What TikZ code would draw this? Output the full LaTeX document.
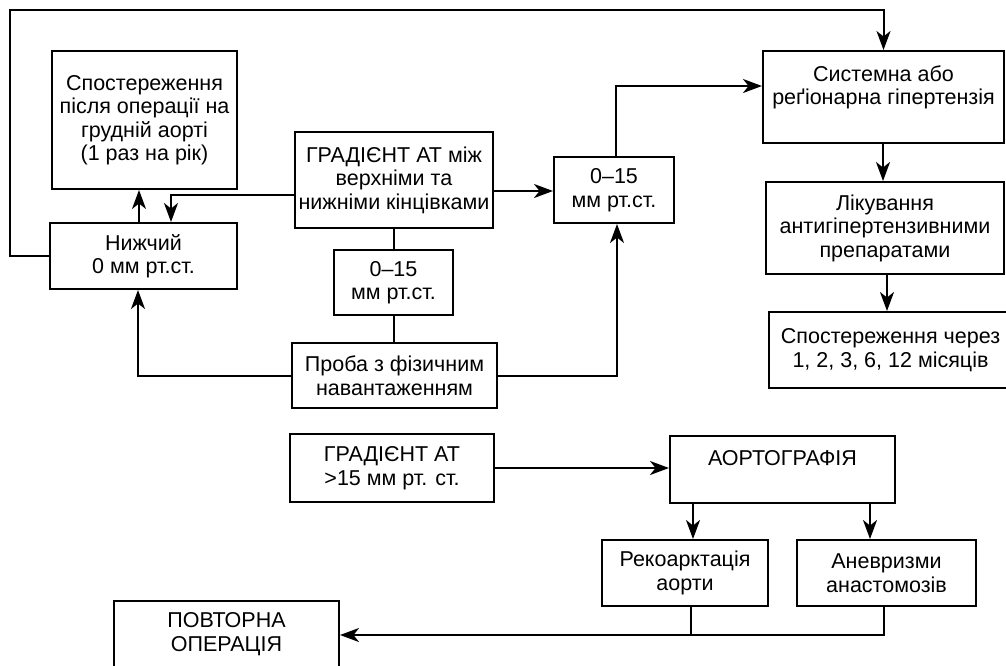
\documentclass[tikz,border=0pt]{standalone}
\usepackage{fontspec}
\setmainfont{Liberation Sans}
\usetikzlibrary{arrows.meta}
\begin{document}
\begin{tikzpicture}[x=1pt,y=-1pt,
  box/.style={draw,line width=2pt,rectangle,align=center,inner sep=0pt,font=\fontsize{21.5}{23.5}\selectfont},
  conn/.style={line width=2pt},
  arr/.style={conn,-{Stealth[length=19pt,width=14pt,inset=5.5pt]}}]
\useasboundingbox (0,0) rectangle (1006,665);
\fill[white] (0,0) rectangle (1006,665);

\node[box,minimum width=185,minimum height=138] (obs1) at (144.5,120) {Спостереження\\після операції на\\грудній аорті\\(1 раз на рік)};
\node[box,minimum width=187,minimum height=66] (low) at (143.5,256) {Нижчий\\0 мм рт.ст.};
\node[box,minimum width=198,minimum height=96] (grad) at (394,180) {ГРАДІЄНТ АТ між\\верхніми та\\нижніми кінцівками};
\node[box,minimum width=119,minimum height=65] (mid) at (393.5,282.5) {0–15\\мм рт.ст.};
\node[box,minimum width=205,minimum height=65] (test) at (394.5,375.5) {Проба з фізичним\\навантаженням};
\node[box,minimum width=120,minimum height=66] (r015) at (614,190) {0–15\\мм рт.ст.};
\node[box,minimum width=241,minimum height=92] (sys) at (883.5,97) {Системна або\\реґіонарна гіпертензія\\ };
\node[box,minimum width=238,minimum height=92] (treat) at (885,228) {Лікування\\антигіпертензивними\\препаратами};
\node[box,minimum width=243,minimum height=76] (obs2) at (890.5,350) {Спостереження через\\1, 2, 3, 6, 12 місяців};
\node[box,minimum width=204,minimum height=68] (grad2) at (392,468) {ГРАДІЄНТ АТ\\>15 мм рт. ст.};
\node[box,minimum width=225,minimum height=67] (aorto) at (782.5,469.5) {АОРТОГРАФІЯ\\ };
\node[box,minimum width=166,minimum height=66] (reco) at (685,573) {Рекоарктація\\аорти};
\node[box,minimum width=179,minimum height=66] (anev) at (886.5,573) {Аневризми\\анастомозів};
\node[box,minimum width=225,minimum height=66,anchor=north] (redo) at (226.5,600) {ПОВТОРНА\\ОПЕРАЦІЯ};

\draw[arr] (low.west) -- ++(-39.5,0) |- (883.5,10) -- (sys.north);
\draw[arr] (low.north -| 139,0) -- (obs1.south -| 139,0);
\draw[arr] (grad.west |- 0,195) -| (low.north -| 171,0);
\draw[conn] (grad.south -| 394,0) -- (mid.north -| 394,0);
\draw[conn] (mid.south -| 394,0) -- (test.north -| 394,0);
\draw[arr] (test.west) -| (low.south -| 138,0);
\draw[arr] (test.east) -| (r015.south -| 617,0);
\draw[arr] (grad.east |- 0,191) -- (r015.west |- 0,191);
\draw[arr] (r015.north -| 616,0) |- (sys.west |- 0,86);
\draw[arr] (sys.south -| 883,0) -- (treat.north -| 883,0);
\draw[arr] (treat.south -| 887,0) -- (obs2.north -| 887,0);
\draw[arr] (grad2.east) -- (aorto.west |- grad2.east);
\draw[arr] (aorto.south -| 693,0) -- (reco.north -| 693,0);
\draw[arr] (aorto.south -| 870,0) -- (anev.north -| 870,0);
\coordinate (join) at (691,635);
\draw[conn] (reco.south -| 691,0) -- (join);
\draw[arr] (anev.south -| 884,0) |- (redo.east |- 0,635);
\end{tikzpicture}
\end{document}
